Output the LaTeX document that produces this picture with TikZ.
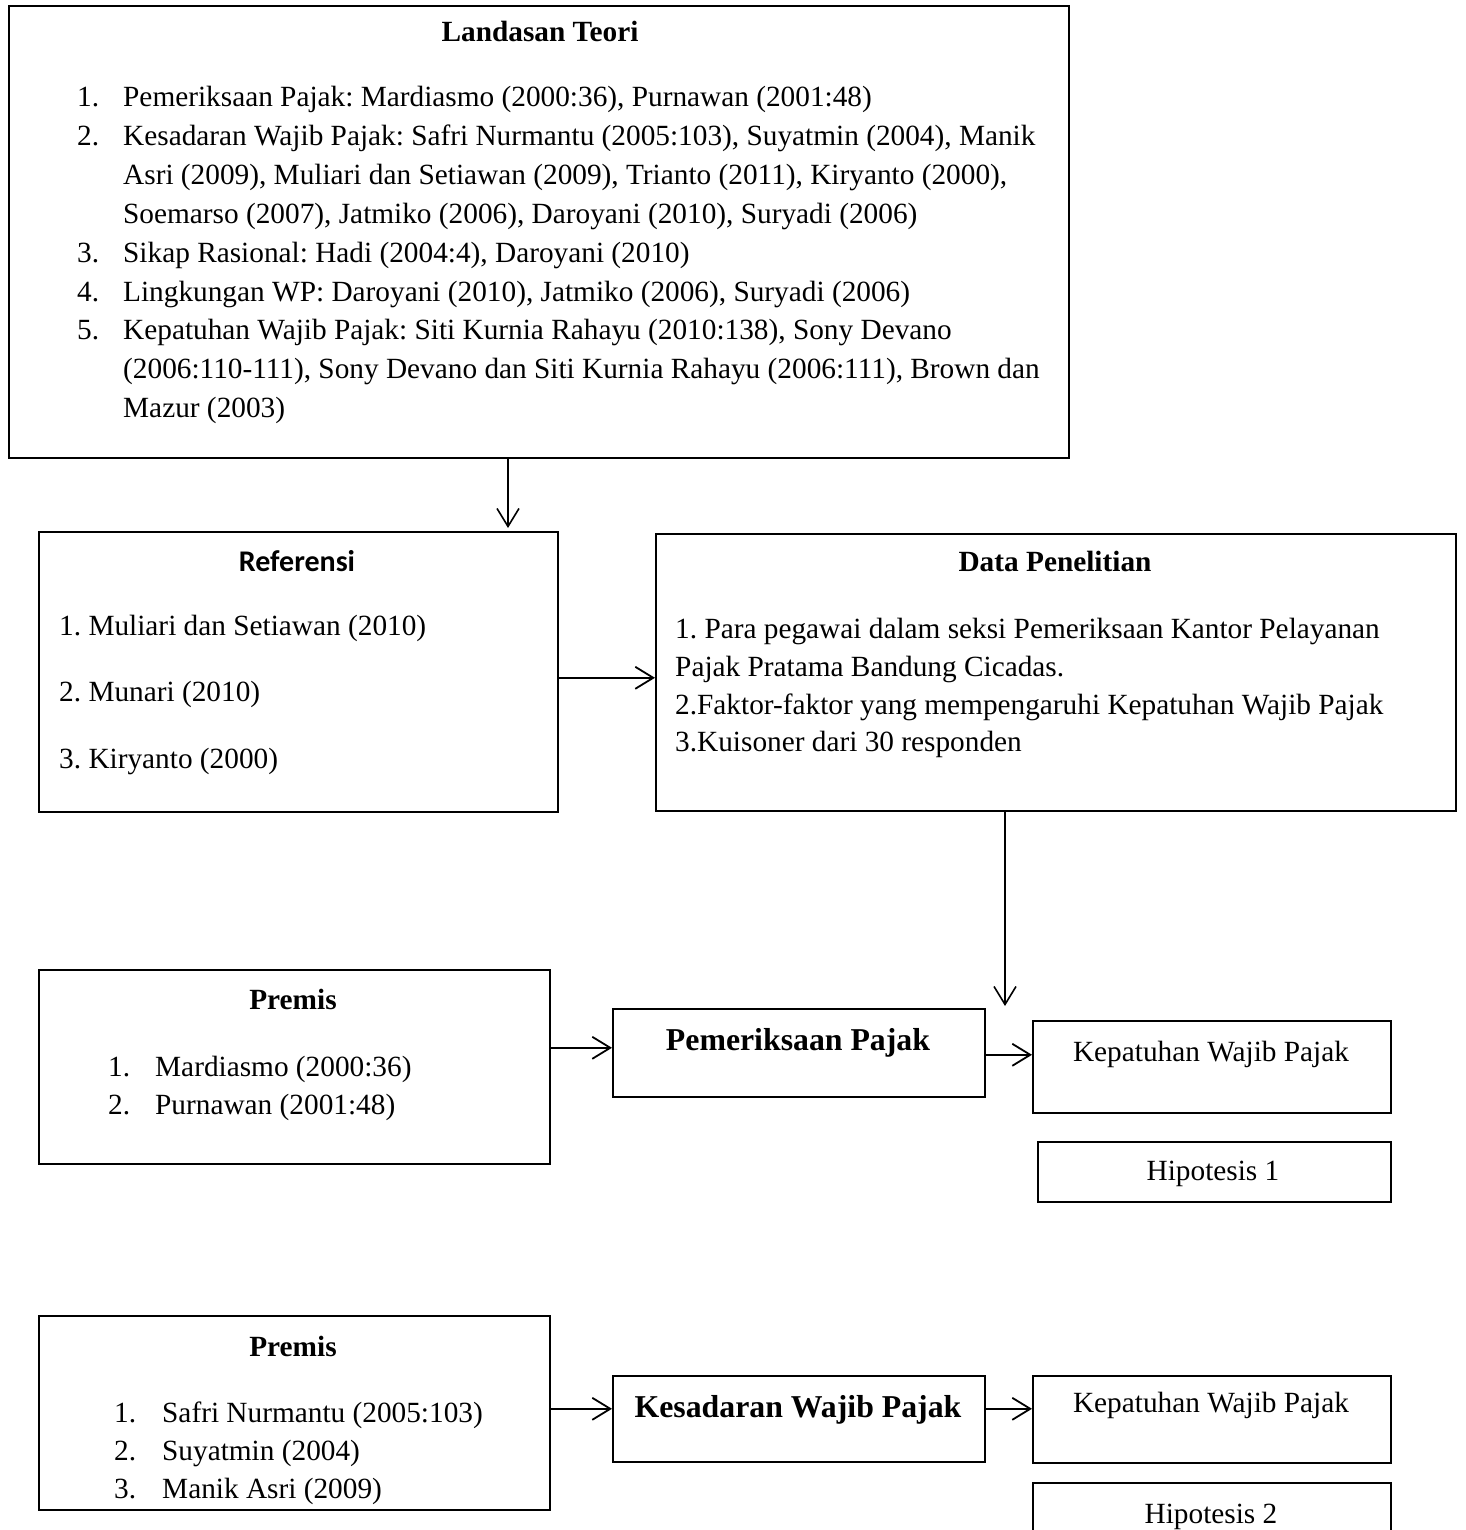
\documentclass[tikz,border=0pt]{standalone}
\usepackage{fontspec}
\setmainfont{Liberation Serif}
\newfontfamily\calibri{Carlito}
\usetikzlibrary{arrows.meta}
\frenchspacing

\newcommand\bodyfont{\fontsize{29.3pt}{38.8pt}\selectfont}
\newcommand\bigbold{\fontsize{31.8pt}{40pt}\selectfont\bfseries}

\begin{document}
\begin{tikzpicture}[
        x=1pt, y=-1pt,
        box/.style ={draw, line width=1.6pt, anchor=north west, inner sep=0pt},
        txt/.style ={font=\bodyfont, anchor=base west, inner sep=0pt},
        ctxt/.style={font=\bodyfont, anchor=base, inner sep=0pt},
        ttl/.style ={font=\bodyfont\bfseries, anchor=base, inner sep=0pt},
        harr/.style={line width=2.4pt, -{Straight Barb[length=18pt, width=22pt, line width=1.8pt]}},
        varr/.style={line width=1.6pt, -{Straight Barb[length=18pt, width=22pt]}}
    ]
        \useasboundingbox (0,0) rectangle (1465,1530);
        % boxes, placed by top-left corner (pixel grid)
        \node[box, minimum width=1060pt, minimum height=452pt] (teori)       at (8,5)      {};
        \node[box, minimum width=519pt,  minimum height=280pt] (ref)         at (38,531)   {};
        \node[box, minimum width=800pt,  minimum height=277pt] (data)        at (655,533)  {};
        \node[box, minimum width=511pt,  minimum height=194pt] (premis1)     at (38,969)   {};
        \node[box, minimum width=372pt,  minimum height=88pt]  (pemeriksaan) at (612,1008) {};
        \node[box, minimum width=358pt,  minimum height=92pt]  (patuh1)      at (1032,1020) {};
        \node[box, minimum width=353pt,  minimum height=60pt]  (hipo1)       at (1037,1141) {};
        \node[box, minimum width=511pt,  minimum height=194pt] (premis2)     at (38,1315)  {};
        \node[box, minimum width=372pt,  minimum height=86pt]  (kesadaran)   at (612,1375) {};
        \node[box, minimum width=358pt,  minimum height=87pt]  (patuh2)      at (1032,1375) {};
        \node[box, minimum width=358pt,  minimum height=70pt]  (hipo2)       at (1032,1482) {};

        % landasan teori
        \node[ttl] (teori-t) at (540,42) {Landasan Teori};
        \foreach \n/\t [count=\i from 0] in {%
            1./{Pemeriksaan Pajak: Mardiasmo (2000:36), Purnawan (2001:48)},%
            2./{Kesadaran Wajib Pajak: Safri Nurmantu (2005:103), Suyatmin (2004), Manik},%
            {}/{Asri (2009), Muliari dan Setiawan (2009), Trianto (2011), Kiryanto (2000),},%
            {}/{Soemarso (2007), Jatmiko (2006), Daroyani (2010), Suryadi (2006)},%
            3./{Sikap Rasional: Hadi (2004:4), Daroyani (2010)},%
            4./{Lingkungan WP: Daroyani (2010), Jatmiko (2006), Suryadi (2006)},%
            5./{Kepatuhan Wajib Pajak: Siti Kurnia Rahayu (2010:138), Sony Devano},%
            {}/{(2006:110-111), Sony Devano dan Siti Kurnia Rahayu (2006:111), Brown dan},%
            {}/{Mazur (2003)}%
        }{
            \node[txt] (teori-n\i) at (77, 107+38.8*\i)  {\n};
            \node[txt] (teori-l\i) at (123, 107+38.8*\i) {\t};
        }

        % referensi
        \node[font=\calibri\fontsize{30pt}{34pt}\selectfont\bfseries, anchor=base] (ref-t) at (297,571) {Referensi};
        \foreach \t [count=\i from 0] in {%
            1. Muliari dan Setiawan (2010), 2. Munari (2010), 3. Kiryanto (2000)%
        }{
            \node[txt] (ref-l\i) at (59, 635+66.5*\i) {\t};
        }

        % data penelitian
        \node[ttl] (data-t) at (1055,571) {Data Penelitian};
        \foreach \t/\y [count=\i from 0] in {%
            1. Para pegawai dalam seksi Pemeriksaan Kantor Pelayanan/638,%
            Pajak Pratama Bandung Cicadas./676,%
            2.Faktor-faktor yang mempengaruhi Kepatuhan Wajib Pajak/714,%
            3.Kuisoner dari 30 responden/751%
        }{
            \node[txt] (data-l\i) at (675,\y) {\t};
        }

        % premis 1
        \node[ttl] (premis1-t) at (293,1009) {Premis};
        \foreach \n/\t [count=\i from 0] in {1./{Mardiasmo (2000:36)}, 2./{Purnawan (2001:48)}}{
            \node[txt] (premis1-n\i) at (108, 1076+38*\i) {\n};
            \node[txt] (premis1-l\i) at (155, 1076+38*\i) {\t};
        }

        % premis 2
        \node[ttl] (premis2-t) at (293,1356) {Premis};
        \foreach \n/\t [count=\i from 0] in {1./{Safri Nurmantu (2005:103)}, 2./{Suyatmin (2004)}, 3./{Manik Asri (2009)}}{
            \node[txt] (premis2-n\i) at (114, 1422+38*\i) {\n};
            \node[txt] (premis2-l\i) at (162, 1422+38*\i) {\t};
        }

        % variables and hypotheses
        \node[font=\bigbold, anchor=base] (pemeriksaan-t) at (798,1050) {Pemeriksaan Pajak};
        \node[font=\bigbold, anchor=base] (kesadaran-t)   at (798,1417) {Kesadaran Wajib Pajak};
        \node[ctxt] (patuh1-t) at (1211,1061) {Kepatuhan Wajib Pajak};
        \node[ctxt] (hipo1-t)  at (1213,1180) {Hipotesis 1};
        \node[ctxt] (patuh2-t) at (1211,1412) {Kepatuhan Wajib Pajak};
        \node[ctxt] (hipo2-t)  at (1211,1523) {Hipotesis 2};

        % connectors
        \coordinate (down1) at (508,0);
        \coordinate (down2) at (1005,1006);
        \draw[varr, shorten >=3pt] (down1 |- teori.south) -- (down1 |- ref.north);
        \draw[harr] ([yshift=-6pt]ref.east) -- ([yshift=-6pt]ref.east -| data.west);
        \draw[varr] (down2 |- data.south) -- (down2);
        \draw[harr] ([yshift=5pt]pemeriksaan.west -| premis1.east) -- ([yshift=5pt]pemeriksaan.west);
        \draw[harr] ([yshift=-2pt]pemeriksaan.east) -- ([yshift=-2pt]pemeriksaan.east -| patuh1.west);
        \draw[harr] ([yshift=10pt]kesadaran.west -| premis2.east) -- ([yshift=10pt]kesadaran.west);
        \draw[harr] ([yshift=10pt]kesadaran.east) -- ([yshift=10pt]kesadaran.east -| patuh2.west);
    \end{tikzpicture}
\end{document}
